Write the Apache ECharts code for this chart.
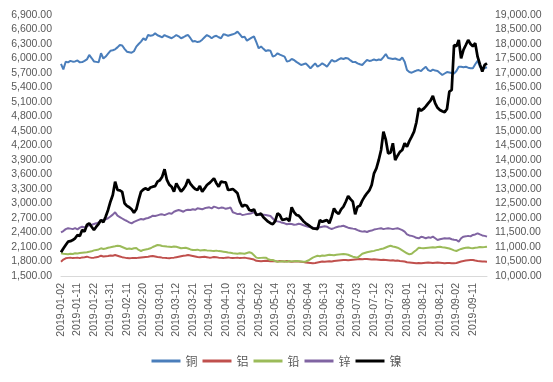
<!DOCTYPE html>
<html>
<head>
<meta charset="utf-8">
<script src="https://cdn.jsdelivr.net/npm/echarts@6/dist/echarts.min.js"></script>
<style>html,body{margin:0;padding:0;background:#fff;}#c{width:553px;height:382px;}</style>
</head>
<body>
<div id="c"></div>
<script>
const dates = [
'2019-01-02','2019-01-03','2019-01-04','2019-01-07','2019-01-08','2019-01-09','2019-01-10','2019-01-11','2019-01-14','2019-01-15',
'2019-01-16','2019-01-17','2019-01-18','2019-01-21','2019-01-22','2019-01-23','2019-01-24','2019-01-25','2019-01-28','2019-01-29',
'2019-01-30','2019-01-31','2019-02-01','2019-02-04','2019-02-05','2019-02-06','2019-02-07','2019-02-08','2019-02-11','2019-02-12',
'2019-02-13','2019-02-14','2019-02-15','2019-02-18','2019-02-19','2019-02-20','2019-02-21','2019-02-22','2019-02-25','2019-02-26',
'2019-02-27','2019-02-28','2019-03-01','2019-03-04','2019-03-05','2019-03-06','2019-03-07','2019-03-08','2019-03-11','2019-03-12',
'2019-03-13','2019-03-14','2019-03-15','2019-03-18','2019-03-19','2019-03-20','2019-03-21','2019-03-22','2019-03-25','2019-03-26',
'2019-03-27','2019-03-28','2019-03-29','2019-04-01','2019-04-02','2019-04-03','2019-04-04','2019-04-05','2019-04-08','2019-04-09',
'2019-04-10','2019-04-11','2019-04-12','2019-04-15','2019-04-16','2019-04-17','2019-04-18','2019-04-23','2019-04-24','2019-04-25',
'2019-04-26','2019-04-29','2019-04-30','2019-05-01','2019-05-02','2019-05-03','2019-05-07','2019-05-08','2019-05-09','2019-05-10',
'2019-05-13','2019-05-14','2019-05-15','2019-05-16','2019-05-17','2019-05-20','2019-05-21','2019-05-22','2019-05-23','2019-05-24',
'2019-05-28','2019-05-29','2019-05-30','2019-05-31','2019-06-03','2019-06-04','2019-06-05','2019-06-06','2019-06-07','2019-06-10',
'2019-06-11','2019-06-12','2019-06-13','2019-06-14','2019-06-17','2019-06-18','2019-06-19','2019-06-20','2019-06-21','2019-06-24',
'2019-06-25','2019-06-26','2019-06-27','2019-06-28','2019-07-01','2019-07-02','2019-07-03','2019-07-04','2019-07-05','2019-07-08',
'2019-07-09','2019-07-10','2019-07-11','2019-07-12','2019-07-15','2019-07-16','2019-07-17','2019-07-18','2019-07-19','2019-07-22',
'2019-07-23','2019-07-24','2019-07-25','2019-07-26','2019-07-29','2019-07-30','2019-07-31','2019-08-01','2019-08-02','2019-08-05',
'2019-08-06','2019-08-07','2019-08-08','2019-08-09','2019-08-12','2019-08-13','2019-08-14','2019-08-15','2019-08-16','2019-08-19',
'2019-08-20','2019-08-21','2019-08-22','2019-08-23','2019-08-27','2019-08-28','2019-08-29','2019-08-30','2019-09-02','2019-09-03',
'2019-09-04','2019-09-05','2019-09-06','2019-09-09','2019-09-10','2019-09-11','2019-09-12','2019-09-13','2019-09-16','2019-09-17',
'2019-09-18','2019-09-19'
];

const copper = [
5890,5775,5934,5920,5950,5935,5940,5960,5920,5925,
5950,5980,6073,6010,5940,5930,5920,6108,6000,6040,
6100,6160,6170,6190,6230,6280,6270,6200,6140,6130,
6120,6150,6245,6300,6350,6418,6380,6486,6470,6480,
6520,6480,6460,6438,6486,6460,6440,6420,6450,6486,
6460,6420,6440,6470,6486,6420,6350,6360,6340,6350,
6390,6440,6486,6460,6420,6455,6470,6440,6420,6500,
6490,6470,6486,6500,6520,6555,6500,6438,6450,6370,
6400,6430,6455,6340,6210,6250,6200,6155,6170,6160,
6040,6060,6108,6080,6060,6040,5935,5950,5990,5970,
5930,5900,5865,5880,5900,5850,5797,5850,5900,5830,
5860,5900,5870,5830,5900,5970,5940,5950,5980,6005,
5990,6010,6000,5960,5925,5930,5900,5880,5865,5920,
5970,5950,5960,5980,5960,5980,5970,6030,6093,6010,
6000,5990,6000,5980,5970,6020,5935,5762,5720,5707,
5730,5750,5760,5740,5790,5830,5760,5740,5770,5750,
5742,5700,5659,5690,5720,5710,5700,5690,5740,5830,
5830,5820,5830,5810,5800,5800,5880,5954,5830,5810,
5800,5820
];

const aluminium = [
1796,1840,1866,1875,1880,1870,1875,1880,1870,1885,
1890,1900,1885,1875,1880,1890,1900,1920,1905,1910,
1915,1925,1920,1935,1920,1905,1890,1880,1870,1866,
1870,1875,1870,1880,1885,1890,1895,1900,1910,1915,
1905,1895,1890,1880,1875,1870,1866,1875,1880,1890,
1900,1910,1920,1925,1935,1925,1915,1905,1895,1890,
1895,1900,1890,1880,1885,1895,1890,1880,1875,1870,
1880,1885,1875,1870,1875,1880,1870,1875,1880,1870,
1860,1850,1840,1815,1810,1805,1810,1815,1810,1805,
1810,1805,1800,1810,1805,1800,1810,1800,1795,1800,
1805,1800,1795,1790,1780,1775,1770,1763,1770,1780,
1790,1800,1795,1800,1805,1800,1810,1815,1820,1825,
1830,1831,1825,1830,1835,1840,1845,1850,1845,1852,
1850,1845,1840,1845,1840,1835,1830,1835,1830,1825,
1820,1825,1815,1820,1810,1805,1800,1784,1780,1775,
1770,1765,1770,1763,1770,1775,1780,1775,1770,1775,
1780,1775,1770,1765,1770,1768,1763,1765,1770,1785,
1800,1810,1820,1825,1830,1831,1820,1810,1805,1800,
1800,1796
];

const lead = [
1970,1960,1955,1949,1960,1955,1970,1965,1975,1980,
1985,1990,2000,2010,2030,2040,2050,2073,2060,2070,
2085,2095,2107,2115,2127,2120,2100,2080,2059,2070,
2060,2075,2080,2040,2017,2040,2050,2060,2073,2100,
2120,2141,2135,2120,2115,2110,2107,2100,2110,2105,
2090,2073,2080,2085,2070,2050,2038,2040,2045,2030,
2035,2040,2030,2025,2020,2017,2025,2015,2010,2003,
1995,1985,1980,1970,1965,1960,1970,1965,1960,1975,
1990,1975,1930,1880,1870,1875,1880,1880,1850,1831,
1831,1810,1796,1800,1805,1800,1795,1810,1800,1805,
1810,1805,1800,1795,1800,1820,1850,1880,1900,1920,
1910,1925,1920,1930,1940,1935,1930,1940,1945,1950,
1955,1950,1940,1920,1900,1890,1880,1920,1960,1975,
1990,2000,2010,2020,2035,2045,2059,2070,2090,2110,
2127,2110,2100,2085,2059,2030,2000,1970,1949,1960,
2000,2040,2086,2080,2075,2080,2085,2090,2095,2090,
2100,2105,2095,2090,2080,2070,2050,2030,2017,2040,
2060,2075,2086,2090,2080,2075,2085,2090,2100,2095,
2100,2107
];

const zinc = [
2404,2430,2470,2487,2480,2470,2490,2466,2500,2520,
2505,2530,2550,2560,2575,2590,2610,2640,2660,2675,
2694,2730,2770,2818,2750,2720,2690,2660,2638,2610,
2590,2620,2640,2660,2680,2670,2690,2700,2720,2748,
2740,2755,2770,2776,2760,2780,2800,2790,2830,2850,
2866,2850,2830,2860,2870,2866,2880,2870,2900,2890,
2880,2900,2914,2920,2900,2935,2920,2900,2915,2910,
2890,2900,2920,2818,2800,2780,2790,2762,2770,2780,
2790,2800,2818,2790,2775,2762,2770,2760,2750,2740,
2690,2638,2630,2620,2600,2590,2570,2580,2575,2560,
2565,2580,2570,2550,2535,2520,2510,2500,2487,2500,
2510,2520,2530,2520,2490,2473,2490,2510,2525,2530,
2540,2520,2500,2490,2480,2473,2450,2430,2418,2425,
2410,2430,2440,2460,2470,2480,2487,2470,2480,2490,
2480,2470,2480,2487,2470,2450,2420,2363,2340,2330,
2314,2290,2280,2310,2300,2280,2300,2290,2314,2280,
2245,2260,2270,2280,2275,2280,2260,2250,2245,2210,
2280,2314,2320,2330,2320,2350,2360,2383,2360,2340,
2330,2314
];

const nickel = [
10820,10950,11070,11183,11200,11240,11300,11414,11380,11587,
11530,11760,11818,11700,11587,11700,11800,11930,11850,12050,
12276,12563,12794,13253,12966,12950,12900,12507,12420,12370,
12300,12186,12300,12621,12908,12980,13024,12966,13050,13080,
13100,13253,13300,13425,13680,13311,13150,13080,12908,13196,
13050,12908,13000,13120,13334,13180,13080,13000,12966,13104,
12908,13020,13138,13200,13280,13368,13200,13080,13253,13240,
13230,12966,12980,13000,12930,12852,12563,12390,12450,12420,
12276,12250,12300,12104,12120,12150,12024,11950,11874,11820,
11783,11890,12163,12100,11930,11950,11980,11890,12370,12200,
12104,12080,11990,11890,11818,11760,11700,11645,11630,11620,
11930,11870,11900,11930,11818,12046,12333,12200,12138,12300,
12390,12560,12759,12650,12563,12128,12390,12420,12600,12736,
12852,12950,13138,13540,13714,14000,14345,14976,14700,14231,
14250,14576,14000,14150,14280,14345,14576,14460,14650,14804,
14976,15300,15782,15700,15760,15850,15955,16050,16207,15955,
15800,15724,15680,15650,15760,16356,16414,17966,17920,18138,
17507,17800,17966,18138,18000,17920,18030,17563,17300,17046,
17276,17333
];

const names = ['铜','铝','铅','锌','镍'];
const colors = ['#4A7EBB','#C0504D','#9BBB59','#8064A2','#000000'];

function fmt(v){
  return Number(v).toLocaleString('en-US',{minimumFractionDigits:2,maximumFractionDigits:2});
}

const labelFont = 'Liberation Sans, Arial, sans-serif';
const chart = echarts.init(document.getElementById('c'), null, {renderer:'canvas'});
const seriesData = [copper, aluminium, lead, zinc, nickel];
chart.setOption({
  animation: false,
  backgroundColor: '#ffffff',
  grid: {left: 61, right: 66, top: 15, bottom: 106, containLabel: false},
  legend: {
    data: names.map((n, k) => ({name: n, icon: 'rect', itemStyle: {color: colors[k]}})),
    bottom: 10,
    left: 'center',
    itemWidth: 29,
    itemHeight: 3,
    itemGap: 5,
    textStyle: {color: '#595959', fontSize: 12, fontFamily: 'Noto Sans CJK SC'}
  },
  xAxis: {
    type: 'category',
    data: dates,
    boundaryGap: false,
    axisLine: {lineStyle: {color: '#D9D9D9', width: 1}},
    axisTick: {show: false},
    splitLine: {show: false},
    axisLabel: {rotate: 90, interval: 6, color: '#595959', fontSize: 10.5, fontFamily: labelFont, margin: 7}
  },
  yAxis: [
    {
      type: 'value', min: 1500, max: 6900, interval: 300,
      axisLine: {show: false}, axisTick: {show: false}, splitLine: {show: false},
      axisLabel: {formatter: fmt, color: '#595959', fontSize: 10.5, fontFamily: labelFont, margin: 9}
    },
    {
      type: 'value', min: 10000, max: 19000, interval: 500, position: 'right',
      axisLine: {show: false}, axisTick: {show: false}, splitLine: {show: false},
      axisLabel: {formatter: fmt, color: '#595959', fontSize: 10.5, fontFamily: labelFont, margin: 8}
    }
  ],
  series: names.map((n, k) => ({
    name: n,
    type: 'line',
    data: seriesData[k],
    yAxisIndex: k === 4 ? 1 : 0,
    symbol: 'none',
    smooth: false,
    lineStyle: {color: colors[k], width: k === 4 ? 2.75 : 2},
    itemStyle: {color: colors[k]}
  }))
});
</script>
</body>
</html>
